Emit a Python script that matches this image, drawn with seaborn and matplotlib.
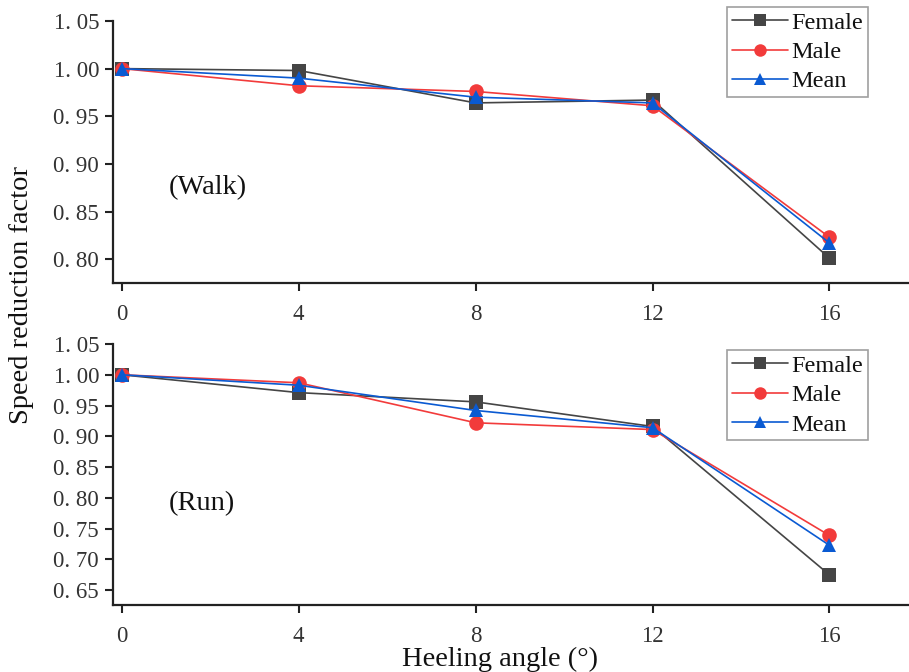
import matplotlib
matplotlib.use("Agg")
import matplotlib.pyplot as plt
import seaborn as sns
import pandas as pd
from matplotlib.ticker import FixedLocator, FixedFormatter

sns.set_theme(style="ticks")
plt.rcParams["font.family"] = ["Liberation Serif", "DejaVu Serif"]

# Heeling angles (degrees)
angles = [0, 4, 8, 12, 16]

# Speed reduction factor, walking
walk_female = [1.000, 0.998, 0.964, 0.967, 0.801]
walk_male = [1.000, 0.982, 0.976, 0.961, 0.823]
walk_mean = [1.000, 0.990, 0.970, 0.964, 0.817]

# Speed reduction factor, running
run_female = [1.000, 0.971, 0.956, 0.916, 0.675]
run_male = [1.000, 0.987, 0.922, 0.911, 0.739]
run_mean = [1.000, 0.983, 0.942, 0.914, 0.723]

groups = ["Female", "Male", "Mean"]
walk_ticks = [0.80, 0.85, 0.90, 0.95, 1.00, 1.05]
run_ticks = [0.65, 0.70, 0.75, 0.80, 0.85, 0.90, 0.95, 1.00, 1.05]
x_ticks = [0, 4, 8, 12, 16]

palette = {"Female": "#454545", "Male": "#f23b3b", "Mean": "#0a5ad2"}
markers = {"Female": "s", "Male": "o", "Mean": "^"}


def long_frame(female, male, mean):
    rows = []
    for g, vals in zip(groups, [female, male, mean]):
        for a, v in zip(angles, vals):
            rows.append({"angle": a, "factor": v, "group": g})
    return pd.DataFrame(rows)


fig = plt.figure(figsize=(9.09, 6.72), dpi=100)
ax_walk = fig.add_axes([0.1243, 0.5789, 0.8757, 0.3899])
ax_run = fig.add_axes([0.1243, 0.0997, 0.8757, 0.3884])

tick_color = "#333333"


def draw(ax, df, yticks, ylim, tag, tag_y, tag_size, legend_top):
    sns.lineplot(data=df, x="angle", y="factor", hue="group", style="group",
                 hue_order=groups, style_order=groups, palette=palette,
                 markers=markers, dashes=False, markersize=10.5,
                 markeredgewidth=0, linewidth=1.2, ax=ax)
    ax.set_xlim(-0.2, 17.8)
    ax.set_ylim(*ylim)
    ax.yaxis.set_major_locator(FixedLocator(yticks))
    ax.yaxis.set_major_formatter(FixedFormatter(
        [f"{t:.2f}".replace(".", ". ") for t in yticks]))
    ax.xaxis.set_major_locator(FixedLocator(x_ticks))
    ax.set_xlabel("")
    ax.set_ylabel("")
    for side in ["top", "right"]:
        ax.spines[side].set_visible(False)
    for side in ["left", "bottom"]:
        ax.spines[side].set_linewidth(1.6)
        ax.spines[side].set_color("#222222")
    ax.spines["left"].set_bounds(ylim[0], yticks[-1])
    ax.tick_params(axis="both", direction="out", length=6, width=1.5,
                   color="#222222", labelsize=16.5, labelcolor=tick_color, pad=4)
    ax.tick_params(axis="x", pad=9)
    ax.text(1.05, tag_y, tag, fontsize=tag_size, va="center", ha="left",
            color="#111111")
    handles, labels = ax.get_legend_handles_labels()
    for h in handles:
        h.set_markersize(9)
    leg = ax.legend(handles, labels, loc="upper right",
                    bbox_to_anchor=(0.955, legend_top), bbox_transform=fig.transFigure,
                    fontsize=17.5, frameon=True, fancybox=False, handlelength=2.3,
                    handletextpad=0.15, labelspacing=0.3, borderpad=0.2,
                    borderaxespad=0)
    leg.get_frame().set_edgecolor("#888888")
    leg.get_frame().set_linewidth(1.2)
    for t in leg.get_texts():
        t.set_color("#111111")


draw(ax_walk, long_frame(walk_female, walk_male, walk_mean), walk_ticks,
     (0.775, 1.05), "(Walk)", 0.875, 20.5, 0.9896)
draw(ax_run, long_frame(run_female, run_male, run_mean), run_ticks,
     (0.626, 1.05), "(Run)", 0.791, 20.5, 0.479)

fig.text(0.024, 0.561, "Speed reduction factor", rotation=90, fontsize=20.5,
         va="center", ha="center", color="#111111")
fig.text(0.55, 0.019, "Heeling angle (°)", fontsize=20.5, va="center",
         ha="center", color="#111111")

fig.savefig("out.png", dpi=100)
